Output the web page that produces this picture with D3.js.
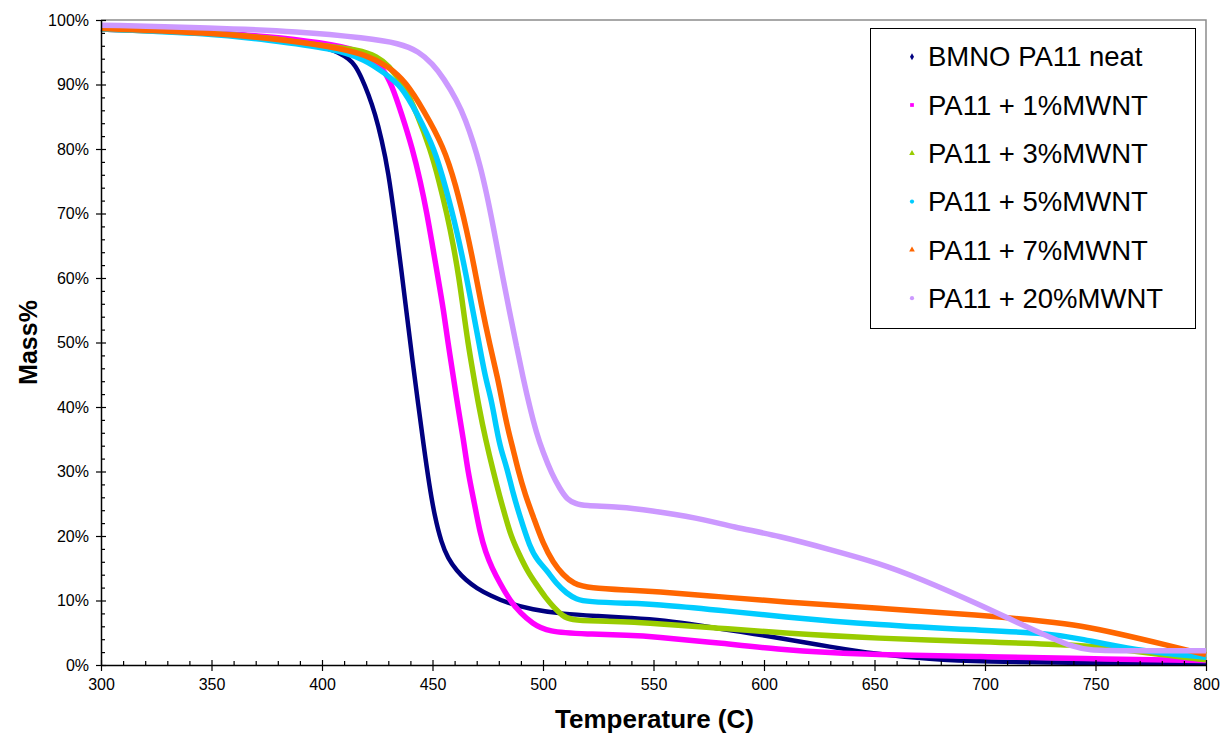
<!DOCTYPE html>
<html>
<head>
<meta charset="utf-8">
<script src="https://cdn.jsdelivr.net/npm/d3@7"></script>
<style>
  body { margin: 0; background: #fff; }
  svg { display: block; font-family: "Liberation Sans", Arial, sans-serif; }
</style>
</head>
<body>
<svg id="chart" width="1221" height="736"></svg>
<script>
// TGA curves, mass % vs temperature
var neatT = [300, 325, 350, 375, 400, 408, 412, 415, 418, 421, 424, 427, 430, 433, 436, 438.5, 441, 443.5, 446, 448.5, 451, 454, 457, 461, 465, 470, 476, 484, 495, 509, 525, 540, 555, 570, 590, 607, 630, 651, 675, 698, 750, 800];
var neatM = [98.7, 98.5, 98.2, 97.4, 96.0, 94.9, 94.0, 93.0, 91.0, 88.5, 85.5, 81.5, 76.5, 69.0, 61.0, 54.0, 47.0, 40.5, 34.0, 28.0, 23.0, 19.0, 16.5, 14.6, 13.2, 11.9, 10.8, 9.6, 8.6, 7.9, 7.6, 7.3, 6.9, 6.2, 5.1, 4.2, 2.8, 1.7, 0.9, 0.5, 0.3, 0.2];

var mw1T = [300, 350, 375, 400, 417, 424, 428, 431.5, 436, 441, 444.5, 447.5, 450, 452.5, 455, 457, 459.5, 461.5, 464, 466, 469, 471.5, 474, 477, 480.5, 485, 490, 495, 502, 520, 539, 550, 580, 607, 630, 652, 698, 743, 800];
var mw1M = [98.6, 98.0, 97.5, 96.5, 95.3, 93.6, 92.2, 90.0, 85.5, 80.0, 75.0, 70.0, 65.0, 60.0, 55.0, 50.0, 44.5, 40.0, 35.0, 30.0, 25.0, 20.5, 17.5, 15.0, 12.7, 10.0, 8.0, 6.5, 5.1, 4.8, 4.6, 4.4, 3.4, 2.4, 1.9, 1.6, 1.3, 1.0, 0.7];

var mw3T = [300, 350, 375, 400, 417, 425, 430, 437, 443, 449, 453, 456.5, 459.5, 462, 464, 466, 468.5, 471, 474, 477.5, 480.5, 483, 485.5, 489, 493, 497, 501, 505, 509, 512, 525, 539, 550, 580, 607, 652, 698, 743, 760, 780, 800];
var mw3M = [98.6, 98.0, 97.3, 96.0, 95.4, 94.3, 93.0, 90.0, 85.5, 80.0, 75.0, 70.0, 65.0, 60.0, 55.0, 50.0, 45.0, 40.0, 35.0, 30.0, 26.0, 23.0, 20.0, 17.3, 14.5, 12.5, 10.5, 8.9, 7.6, 7.0, 6.8, 6.7, 6.45, 5.7, 5.0, 4.1, 3.6, 3.1, 2.5, 1.6, 0.8];

var mw5T = [300, 350, 375, 405, 420, 428, 436, 443, 451, 456, 461, 465.5, 468.5, 471, 473.8, 476.7, 479, 481, 483.6, 486.5, 489.6, 494, 497.5, 501.7, 506, 510.7, 515, 520, 539, 550, 580, 607, 652, 698, 729, 743, 767, 800];
var mw5M = [98.6, 97.9, 96.9, 95.6, 93.8, 91.8, 89.8, 85.5, 80.0, 74.0, 67.4, 60.0, 54.5, 50.0, 44.7, 41.1, 36.5, 33.3, 30.7, 26.5, 23.0, 18.3, 16.2, 14.7, 12.6, 11.1, 10.2, 9.8, 9.55, 9.45, 8.5, 7.5, 6.2, 5.4, 4.9, 4.1, 2.3, 1.2];

var mw7T = [300, 350, 375, 405, 420, 430, 438, 446, 455, 460.5, 465.5, 469, 472, 476, 479.5, 482, 484.5, 486.6, 488.5, 492, 495.6, 500, 504.7, 509, 513.7, 521, 539, 550, 580, 607, 652, 698, 729, 743, 760, 782, 800];
var mw7M = [98.7, 98.0, 97.2, 95.9, 94.6, 92.8, 90.4, 86.0, 80.4, 74.5, 67.4, 61.5, 56.0, 49.5, 44.5, 40.0, 36.0, 33.3, 30.5, 26.3, 23.0, 18.8, 15.8, 14.0, 12.6, 11.9, 11.6, 11.4, 10.6, 9.8, 8.8, 7.75, 6.7, 6.1, 4.9, 3.1, 1.6];

var mw20T = [300, 350, 390, 420, 435, 444, 450, 455, 461, 465, 468.5, 471.5, 474.5, 477.5, 481, 485, 488, 491, 494, 497, 500, 504, 507.7, 511, 515, 518, 535, 548, 570, 586, 607, 630, 652, 670, 698, 715, 730, 740, 747, 760, 800];
var mw20M = [99.2, 98.8, 98.2, 97.2, 96.4, 95.1, 93.2, 91.0, 87.6, 84.5, 81.0, 77.5, 73.1, 68.0, 61.5, 54.5, 49.5, 44.5, 40.0, 36.0, 33.0, 29.6, 27.3, 25.6, 25.0, 24.7, 24.5, 24.0, 22.8, 21.4, 20.0, 17.9, 15.8, 13.5, 9.3, 6.5, 4.2, 2.8, 2.3, 2.2, 2.2];

var seriesNames  = ["BMNO PA11 neat", "PA11 + 1%MWNT", "PA11 + 3%MWNT", "PA11 + 5%MWNT", "PA11 + 7%MWNT", "PA11 + 20%MWNT"];
var seriesColors = ["#000080", "#FF00FF", "#99CC00", "#00CCFF", "#FF6600", "#CC99FF"];
var seriesT = [neatT, mw1T, mw3T, mw5T, mw7T, mw20T];
var seriesM = [neatM, mw1M, mw3M, mw5M, mw7M, mw20M];

var xTicks = [300, 350, 400, 450, 500, 550, 600, 650, 700, 750, 800];
var yTicks = [0, 10, 20, 30, 40, 50, 60, 70, 80, 90, 100];

var svg = d3.select("#chart");
var margin = {left: 101, right: 15, top: 20, bottom: 71};
var width = 1221 - margin.left - margin.right,
    height = 736 - margin.top - margin.bottom;

svg.append("rect").attr("width", 1221).attr("height", 736).attr("fill", "#fff");

var x = d3.scaleLinear().domain([300, 800]).range([0, width]);
var y = d3.scaleLinear().domain([0, 100]).range([height, 0]);

var g = svg.append("g")
    .attr("transform", "translate(" + margin.left + "," + margin.top + ")");

// gray frame on top and right
g.append("path")
    .attr("d", "M0,0H" + width + "V" + height)
    .attr("fill", "none").attr("stroke", "#8c8c8c").attr("stroke-width", 1.5);

var data = seriesNames.map(function(name, i) {
    return {
        name: name,
        color: seriesColors[i],
        pts: seriesT[i].map(function(t, j) { return [t, seriesM[i][j]]; })
    };
});

var line = d3.line()
    .x(function(d) { return x(d[0]); })
    .y(function(d) { return y(d[1]); })
    .curve(d3.curveBasis);

svg.append("clipPath").attr("id", "plotclip")
    .append("rect").attr("x", -4).attr("y", -4).attr("width", width + 8).attr("height", height + 8);

g.append("g").attr("clip-path", "url(#plotclip)")
  .selectAll(".series")
  .data(data)
  .enter().append("path")
    .attr("class", "series")
    .attr("fill", "none")
    .attr("stroke", function(d) { return d.color; })
    .attr("stroke-width", function(d, i) { return i === 0 ? 4.5 : 5.5; })
    .attr("stroke-linejoin", "round")
    .attr("d", function(d) { return line(d.pts); });

// x axis: minor ticks inside, major ticks across
var minorX = d3.range(300, 801, 10).filter(function(v) { return v % 50 !== 0; });
g.append("g")
    .attr("transform", "translate(0," + height + ")")
    .call(d3.axisBottom(x).tickValues(minorX).tickSize(-4).tickFormat(""))
    .call(function(a) { a.select(".domain").remove(); });

var xAxis = g.append("g")
    .attr("transform", "translate(0," + height + ")")
    .call(d3.axisBottom(x).tickValues(xTicks).tickSize(6).tickSizeOuter(0).tickPadding(8));
xAxis.selectAll(".tick line").attr("y1", -5);

// y axis
var minorY = d3.range(0, 101, 2).filter(function(v) { return v % 10 !== 0; });
g.append("g")
    .call(d3.axisLeft(y).tickValues(minorY).tickSize(-4).tickFormat(""))
    .call(function(a) { a.select(".domain").remove(); });

var yAxis = g.append("g")
    .call(d3.axisLeft(y).tickValues(yTicks).tickSize(5).tickSizeOuter(0).tickPadding(7)
        .tickFormat(function(d) { return d + "%"; }));
yAxis.selectAll(".tick line").attr("x1", 5);

g.selectAll(".domain").attr("stroke", "#000").attr("stroke-width", 1.5);
g.selectAll(".tick line").attr("stroke", "#000").attr("stroke-width", 1.2);
g.selectAll(".tick text")
    .attr("fill", "#000")
    .style("font-size", "16px")
    .style("font-family", "'Liberation Sans', Arial, sans-serif");

// axis titles
svg.append("text")
    .attr("x", margin.left + width / 2 + 1).attr("y", 728)
    .attr("text-anchor", "middle")
    .style("font-size", "26px").style("font-weight", "bold")
    .text("Temperature (C)");

svg.append("text")
    .attr("transform", "translate(37," + (margin.top + height / 2) + ") rotate(-90)")
    .attr("text-anchor", "middle")
    .style("font-size", "25px").style("font-weight", "bold")
    .text("Mass%");

// legend
var legend = svg.append("g");
legend.append("rect")
    .attr("x", 870.5).attr("y", 28.5).attr("width", 325).attr("height", 300)
    .attr("fill", "#fff").attr("stroke", "#000").attr("stroke-width", 1);

var symbols = [d3.symbolDiamond, d3.symbolSquare, d3.symbolTriangle, d3.symbolCircle, d3.symbolTriangle, d3.symbolCircle];

var items = legend.selectAll(".item")
    .data(data)
    .enter().append("g")
    .attr("class", "item")
    .attr("transform", function(d, i) { return "translate(912," + (56.7 + i * 48.3) + ")"; });

items.append("path")
    .attr("d", function(d, i) { return d3.symbol().type(symbols[i]).size(14)(); })
    .attr("fill", function(d) { return d.color; });

items.append("text")
    .attr("x", 16).attr("dy", "0.35em")
    .style("font-size", "27.5px")
    .text(function(d) { return d.name; });
</script>
</body>
</html>
